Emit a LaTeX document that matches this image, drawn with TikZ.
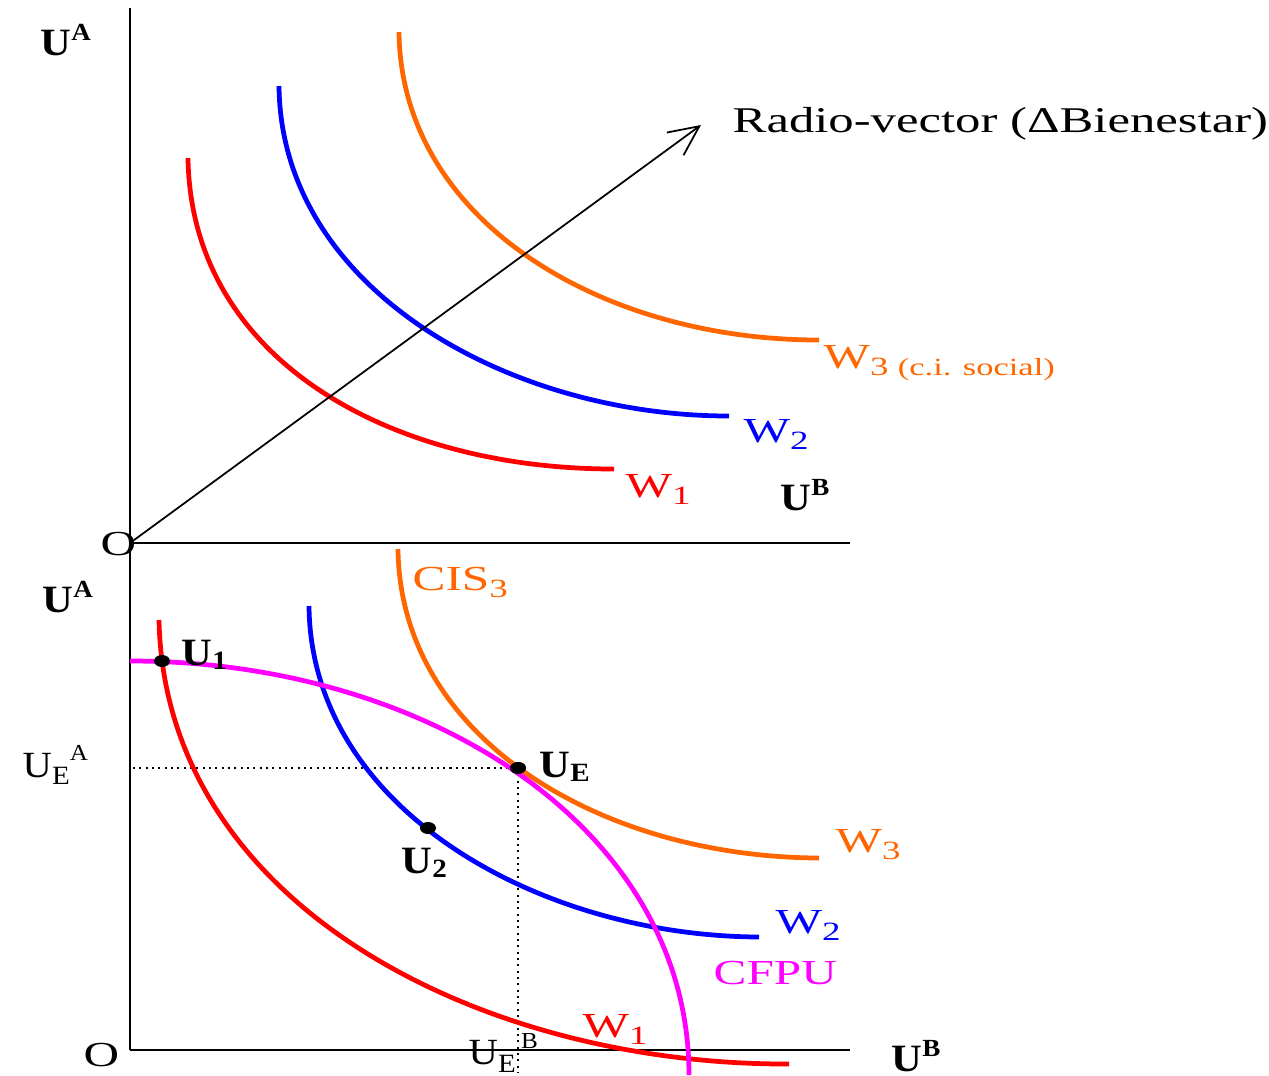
\documentclass[tikz,border=0pt]{standalone}
\usepackage{fontspec}
\setmainfont{Liberation Serif}[FakeStretch=1.4]
\newfontfamily\ufont{Liberation Serif}[FakeStretch=1.1]
\usetikzlibrary{arrows.meta}
\usetikzlibrary{shapes.geometric}
\definecolor{wred}{RGB}{255,0,0}
\definecolor{wblue}{RGB}{0,0,255}
\definecolor{worange}{RGB}{255,102,0}
\definecolor{wmag}{RGB}{255,0,255}
\newcommand{\dig}[1]{\raisebox{-2pt}{\fontsize{7.5}{8}\selectfont #1}}
\newcommand{\bsup}[1]{\raisebox{4.2pt}{\fontsize{7}{8}\selectfont #1}}
\newcommand{\bsub}[1]{\raisebox{-1.2pt}{\fontsize{7.5}{8}\selectfont #1}}

\begin{document}
\begin{tikzpicture}[
    x=0.01cm, y=-0.01cm,
    axis/.style={line width=0.6pt},
    curve/.style={line width=1.35pt},
    arrow/.style={-{Straight Barb[length=8.5pt,width=8pt]}, line width=0.5pt},
    guide/.style={line width=0.6pt, dash pattern=on 0.6pt off 1.2pt},
    dot/.style={ellipse, fill, inner sep=0pt, minimum width=0.16cm, minimum height=0.12cm},
    lbl/.style={inner sep=0pt, anchor=base west, font=\fontsize{10}{12}\selectfont},
    ulbl/.style={inner sep=0pt, anchor=base west, font=\ufont\fontsize{11}{13}\selectfont\bfseries}
]
    \useasboundingbox (0,0) rectangle (1269,1075);

    % Axes
    \coordinate (top) at (130,8);
    \coordinate (O1) at (130,543);
    \coordinate (xend1) at (850,543);
    \coordinate (O2) at (130,1050);
    \coordinate (xend2) at (850,1050);
    \draw[axis] (top) -- (O2);
    \draw[axis] (O1) -- (xend1);
    \draw[axis] (O2) -- (xend2);

    % Upper panel: social indifference curves
    \draw[curve, wred] (188,158) .. controls (191,360) and (390,469) .. (614,469);
    \draw[curve, wblue] (279,86) .. controls (281,290) and (510,416) .. (729,416);
    \draw[curve, worange] (399,32) .. controls (401,220) and (600,340) .. (819,340);

    \coordinate (rv) at (701,125);
    \draw[arrow] (O1) -- (rv);
    \node[lbl, font=\fontsize{10.3}{12}\selectfont] (rvtext) at (732,132) {Radio-vector (ΔBienestar)};

    \node[ulbl] (ua1) at (40,55) {U\bsup{A}};
    \node[ulbl] (ub1) at (780,510) {U\bsup{B}};
    \node[lbl] (o1) at (100,555) {O};
    \node[lbl, wred] (w1a) at (625,497) {W\dig{1}};
    \node[lbl, wblue] (w2a) at (743,442) {W\dig{2}};
    \node[lbl, worange] (w3a) at (823,368) {W\dig{3 {\fontsize{7}{8}\selectfont(c.i. social)}}};

    % Lower panel: equilibrium on the utility frontier
    \node[dot] (ue) at (518,768) {};
    \coordinate (uea) at (133,768);
    \coordinate (ueb) at (518,1072);
    \draw[guide] (uea) -- (ue.center);
    \draw[guide] (ue.center) -- (ueb);

    \draw[curve, wred] (159,620) .. controls (165,905) and (480,1065) .. (789,1064);
    \draw[curve, wblue] (309,606) .. controls (311,810) and (540,936) .. (759,937);
    \draw[curve, worange] (398,549) .. controls (400,737) and (599,857) .. (819,858);
    \draw[curve, wmag] (130,661) .. controls (430,661) and (689,830) .. (689,1075);

    \node[dot] (u1) at (162,661) {};
    \node[dot] (u2) at (428,828) {};
    \node[dot] at (ue) {};

    \node[ulbl] (ua2) at (42,612) {U\bsup{A}};
    \node[lbl] (o2) at (83,1066) {O};
    \node[ulbl] (ub2) at (891,1071) {U\bsup{B}};
    \node[ulbl] (u1lab) at (181,665) {U\bsub{1}};
    \node[ulbl] (u2lab) at (401,873) {U\bsub{2}};
    \node[ulbl] (uelab) at (539,777) {U\bsub{E}};
    \node[lbl, font=\ufont\fontsize{10.5}{12}\selectfont] (uealab) at (22,777) {U\raisebox{-2pt}{\fontsize{7.5}{8}\selectfont E}\raisebox{4.6pt}{\fontsize{6.5}{7}\selectfont A}};
    \node[lbl, font=\ufont\fontsize{10.5}{12}\selectfont] (ueblab) at (468,1064) {U\raisebox{-2.3pt}{\fontsize{7.5}{8}\selectfont E}\hspace{1.5pt}\raisebox{4.5pt}{\fontsize{6.5}{7}\selectfont B}};
    \node[lbl, worange] (cis) at (412,590) {CIS\dig{3}};
    \node[lbl, worange] (w3b) at (835,852) {W\dig{3}};
    \node[lbl, wblue] (w2b) at (775,933) {W\dig{2}};
    \node[lbl, wmag] (cfpu) at (713,984) {CFPU};
    \node[lbl, wred] (w1b) at (582,1037) {W\dig{1}};
\end{tikzpicture}
\end{document}
